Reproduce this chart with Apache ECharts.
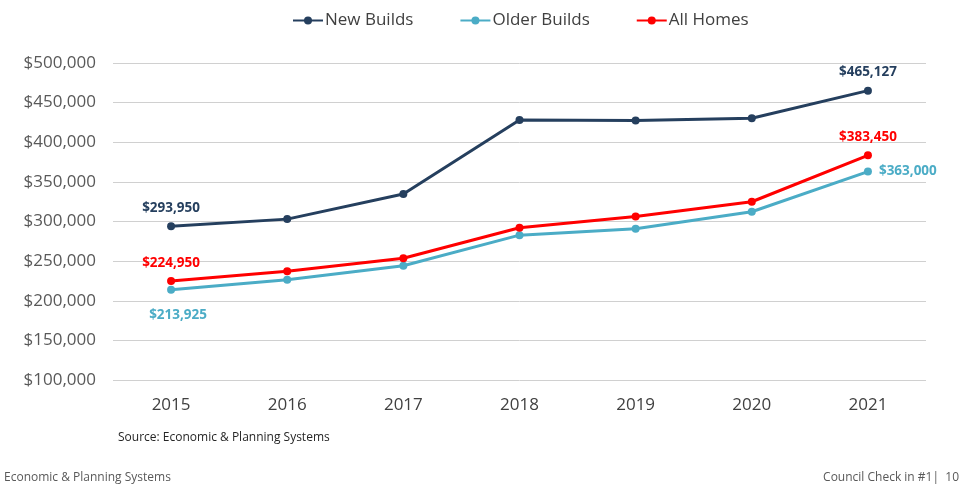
<!DOCTYPE html>
<html><head><meta charset="utf-8">
<script src="https://cdn.jsdelivr.net/npm/echarts@6/dist/echarts.min.js"></script>
<style>html,body{margin:0;padding:0;background:#fff}#c{width:963px;height:486px}</style>
</head><body><div id="c"></div>
<script>
const years = ['2015','2016','2017','2018','2019','2020','2021'];
const newBuilds = [293950, 303000, 334600, 428000, 427300, 430200, 465127];
const olderBuilds = [213925, 226600, 244200, 282800, 290800, 312300, 363000];
const allHomes = [224950, 237100, 253700, 292100, 306400, 324900, 383450];
const seriesNames = ['New Builds', 'Older Builds', 'All Homes'];
const colors = ['#253F5E', '#4BACC6', '#FF0000'];
const FONT = 'Open Sans';
const fmt = v => '$' + Math.round(v).toLocaleString('en-US');

function labeled(idxMap) {
  return function(data, color) {
    return data.map((v, i) => {
      const cfg = idxMap[i];
      if (!cfg) return v;
      return { value: v, label: Object.assign({ show: true, distance: 7, formatter: p => fmt(p.value), color: color, fontWeight: 'bold', fontSize: 13.5, fontFamily: FONT }, cfg) };
    });
  };
}

const chart = echarts.init(document.getElementById('c'), null, {renderer: 'canvas'});
chart.setOption({
  animation: false,
  textStyle: { fontFamily: FONT },
  legend: {
    top: 7, left: 287, itemGap: 46, itemWidth: 30, itemHeight: 10,
    textStyle: { fontSize: 17, color: '#404040', fontFamily: FONT, padding: [0,0,0,-3] },
    data: seriesNames
  },
  grid: { left: 113, right: 37, top: 63, bottom: 106 },
  xAxis: {
    type: 'category', data: years, boundaryGap: true,
    axisLine: { show: false }, axisTick: { show: false },
    axisLabel: { fontSize: 17, color: '#404040', margin: 17, fontFamily: FONT }
  },
  yAxis: {
    type: 'value', min: 100000, max: 500000, interval: 50000,
    axisLine: { show: false }, axisTick: { show: false },
    splitLine: { lineStyle: { color: '#D0D0D0', width: 1 } },
    axisLabel: { fontSize: 17, color: '#595959', margin: 17, fontFamily: FONT, formatter: v => fmt(v) }
  },
  series: [
    { name: seriesNames[0], type: 'line', symbol: 'circle', symbolSize: 8,
      lineStyle: { width: 3, color: colors[0] }, itemStyle: { color: colors[0] },
      data: labeled({0: {position: 'top'}, 6: {position: 'top'}})(newBuilds, colors[0]) },
    { name: seriesNames[1], type: 'line', symbol: 'circle', symbolSize: 8,
      lineStyle: { width: 3, color: colors[1] }, itemStyle: { color: colors[1] },
      data: labeled({0: {position: 'bottom', distance: 14, offset: [7, 0]}, 6: {position: 'right'}})(olderBuilds, colors[1]) },
    { name: seriesNames[2], type: 'line', symbol: 'circle', symbolSize: 8,
      lineStyle: { width: 3, color: colors[2] }, itemStyle: { color: colors[2] },
      data: labeled({0: {position: 'top'}, 6: {position: 'top'}})(allHomes, colors[2]) }
  ],
  graphic: [
    { type: 'text', left: 118, top: 432, style: { text: 'Source: Economic & Planning Systems', fontSize: 12, fill: '#262626', fontFamily: FONT } },
    { type: 'text', left: 4, top: 472, style: { text: 'Economic & Planning Systems', fontSize: 12, fill: '#595959', fontFamily: FONT } },
    { type: 'text', right: 4, top: 472, style: { text: 'Council Check in #1|  10', fontSize: 12, fill: '#595959', fontFamily: FONT } }
  ]
});
</script></body></html>
